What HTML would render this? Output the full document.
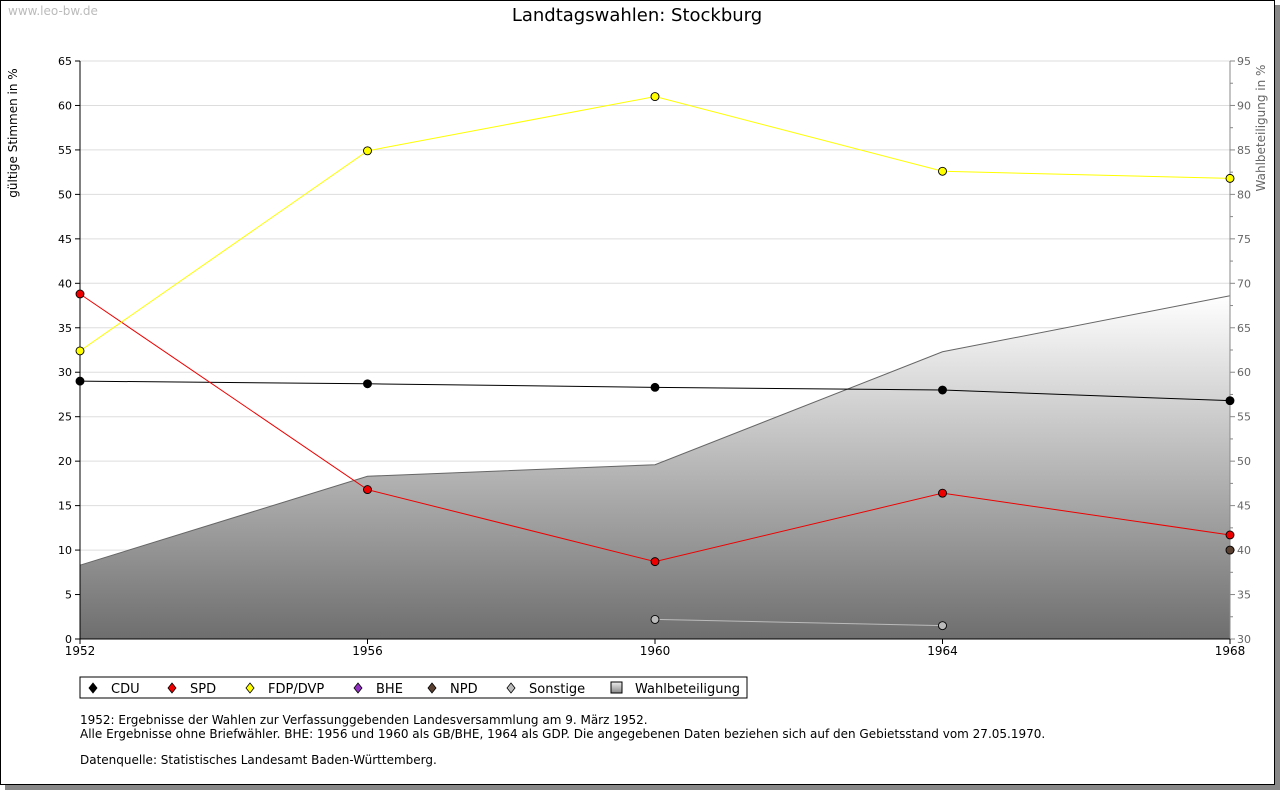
<!DOCTYPE html>
<html><head><meta charset="utf-8"><style>
body{margin:0;background:#fff;font-family:"DejaVu Sans","Liberation Sans",sans-serif;}
#frame{position:absolute;left:0;top:0;width:1273px;height:783px;border:1px solid #000;box-shadow:5px 5px 0 #888;background:#fff;}
svg{position:absolute;left:0;top:0}
</style></head><body>
<div id="frame"></div>
<svg id="c" width="1280" height="791" font-family="DejaVu Sans, Liberation Sans, sans-serif">
<defs><linearGradient id="g" x1="0" y1="0" x2="0" y2="1"><stop offset="0" stop-color="#fff"/><stop offset="1" stop-color="#6e6e6e"/></linearGradient>
<linearGradient id="gl" x1="0" y1="0" x2="0" y2="1"><stop offset="0" stop-color="#eee"/><stop offset="1" stop-color="#888"/></linearGradient></defs>
<text x="8" y="15" font-size="12" fill="#bbb">www.leo-bw.de</text>
<text x="637" y="21" font-size="18" text-anchor="middle">Landtagswahlen: Stockburg</text>
<text transform="translate(17,133) rotate(-90)" font-size="12" text-anchor="middle">gültige Stimmen in %</text>
<text transform="translate(1265,128) rotate(-90)" font-size="12" fill="#666" text-anchor="middle">Wahlbeteiligung in %</text>
<g id="grid"></g><g id="area"></g><g id="axes"></g><g id="lines"></g>
<rect x="80" y="677" width="667" height="21" fill="#fff" stroke="#000"/>
<g id="legend"></g>
<g font-size="12">
<text x="80" y="724">1952: Ergebnisse der Wahlen zur Verfassunggebenden Landesversammlung am 9. März 1952.</text>
<text x="80" y="738">Alle Ergebnisse ohne Briefwähler. BHE: 1956 und 1960 als GB/BHE, 1964 als GDP. Die angegebenen Daten beziehen sich auf den Gebietsstand vom 27.05.1970.</text>
<text x="80" y="764">Datenquelle: Statistisches Landesamt Baden-Württemberg.</text>
</g>
</svg>
<script>
const years=[1952,1956,1960,1964,1968];
const cdu=[29.0,28.7,28.3,28.0,26.8];
const spd=[38.8,16.8,8.7,16.4,11.7];
const fdp=[32.4,54.9,61.0,52.6,51.8];
const npd=[null,null,null,null,10.0];
const sonstige=[null,null,2.2,1.5,null];
const turnout=[38.3,48.3,49.6,62.3,68.6];
const leftTicks=[0,5,10,15,20,25,30,35,40,45,50,55,60,65];
const rightTicks=[30,35,40,45,50,55,60,65,70,75,80,85,90,95];
const NS='http://www.w3.org/2000/svg';
const X=y=>80+(y-1952)/(1968-1952)*1150;
const Y=v=>639-v/65*578;
const Y2=v=>639-(v-30)/65*578;
function mk(t,a,p){const e=document.createElementNS(NS,t);for(const k in a)e.setAttribute(k,a[k]);if(p)p.appendChild(e);return e;}
const grid=document.getElementById('grid'),axes=document.getElementById('axes'),area=document.getElementById('area'),lines=document.getElementById('lines');
leftTicks.forEach(v=>{
 if(v>0){const l=mk('line',{x1:80,x2:1230,y1:Y(v),y2:Y(v),stroke:'#ddd'},grid);}
 mk('line',{x1:75,x2:80,y1:Y(v),y2:Y(v),stroke:'#000'},axes);
 const t=mk('text',{x:72,y:Y(v)+4,'font-size':11,'text-anchor':'end'},axes);t.textContent=v;
 
});
rightTicks.forEach((v,i)=>{
 mk('line',{x1:1230,x2:1235,y1:Y2(v),y2:Y2(v),stroke:'#888'},axes);
 if(i<rightTicks.length-1)mk('line',{x1:1230,x2:1233,y1:Y2(v+2.5),y2:Y2(v+2.5),stroke:'#888'},axes);
 const t=mk('text',{x:1237,y:Y2(v)+4,'font-size':11,fill:'#666'},axes);t.textContent=v;
 
});
years.forEach(y=>{
 mk('line',{x1:X(y),x2:X(y),y1:639,y2:644,stroke:'#000'},axes);
 const t=mk('text',{x:X(y),y:655,'font-size':12,'text-anchor':'middle'},axes);t.textContent=y;
 
});
let d='M'+X(years[0])+',639 '+years.map((y,i)=>'L'+X(y)+','+Y2(turnout[i])).join(' ')+' L'+X(years[4])+',639Z';
const ar=mk('path',{d:d,fill:'url(#g)'},area);

const al=mk('polyline',{points:years.map((y,i)=>X(y)+','+Y2(turnout[i])).join(' '),fill:'none',stroke:'#666'},area);

mk('line',{x1:80,x2:80,y1:61,y2:639,stroke:'#000'},axes);
mk('line',{x1:1230,x2:1230,y1:61,y2:639,stroke:'#888'},axes);
mk('line',{x1:80,x2:1230,y1:639,y2:639,stroke:'#000'},axes);
function series(vals,col,lc,name){
 const pts=[];vals.forEach((v,i)=>{if(v!=null)pts.push([X(years[i]),Y(v)]);});
 if(pts.length>1){const p=mk('polyline',{points:pts.map(p=>p.join(',')).join(' '),fill:'none',stroke:lc},lines);
  }
 pts.forEach(p=>{const m=mk('circle',{cx:p[0],cy:p[1],r:4,fill:col,stroke:'#000','stroke-width':0.9},lines);
  });
}
series(cdu,'#000','#000','cdu');
series(spd,'#e00','#e00','spd');
series(fdp,'#ff0','#ff0','fdp');
series(npd,'#5a4030','#5a4030','npd');
series(sonstige,'#bbb','#bbb','sonstige');
const leg=document.getElementById('legend');
const items=[['CDU','#000',93],['SPD','#e00',172],['FDP/DVP','#ff0',250],['BHE','#9030c0',358],['NPD','#5a4030',432],['Sonstige','#bbb',511],['Wahlbeteiligung',null,617]];
items.forEach(([n,c,x])=>{
 const g=mk('g',{},leg);
 if(c)mk('path',{d:`M${x},683L${x+4},688L${x},693L${x-4},688Z`,fill:c,stroke:'#000','stroke-width':0.8},g);
 else mk('rect',{x:x-6,y:682,width:11,height:11,fill:'url(#gl)',stroke:'#000'},g);
 const t=mk('text',{x:x+18,y:693,'font-size':13},g);t.textContent=n;
});
</script>
</body></html>
